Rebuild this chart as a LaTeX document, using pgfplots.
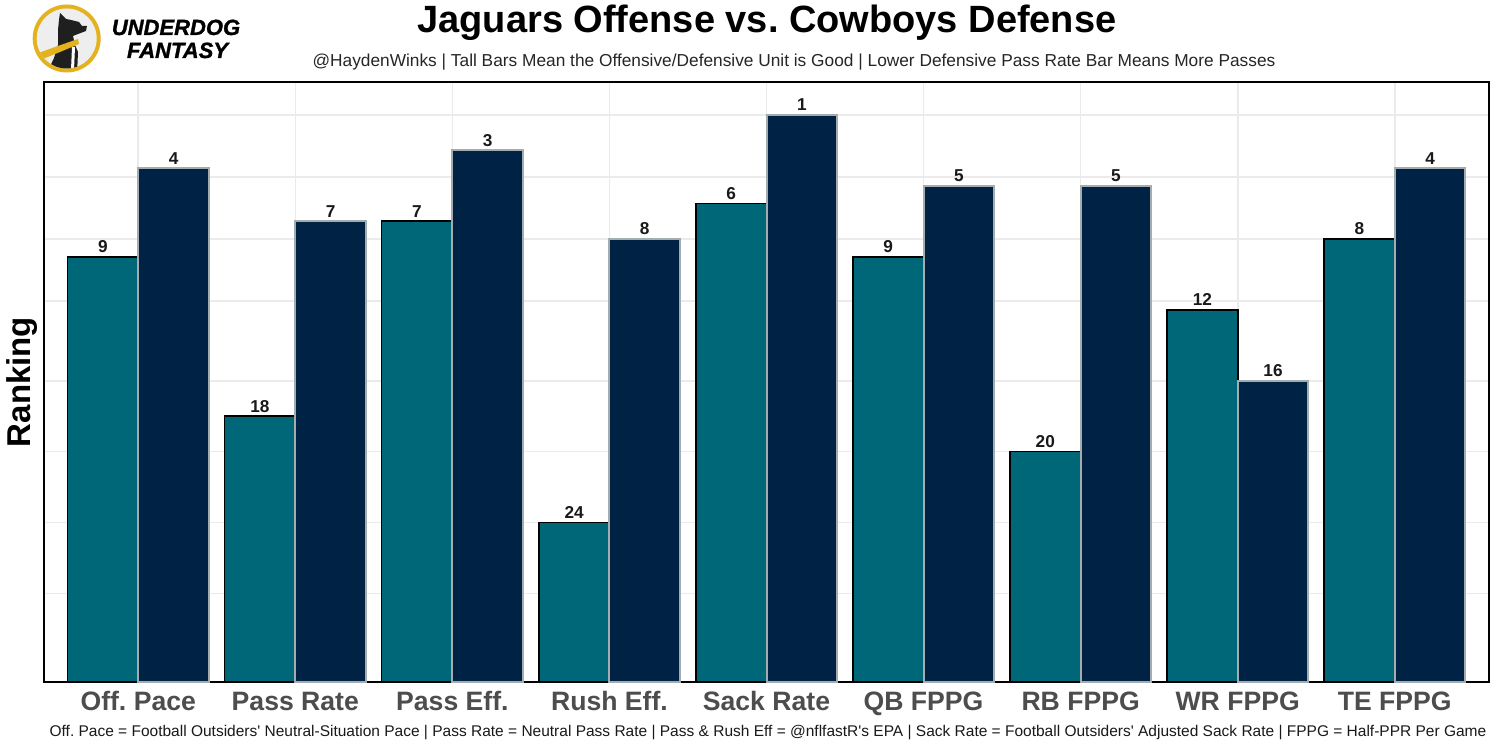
\documentclass[border=0pt]{standalone}
\usepackage{fontspec}
\setmainfont{Liberation Sans}[Ligatures=TeXOff]
\newfontfamily\logofont{Liberation Sans}[BoldItalicFeatures={FakeBold=1.2}]
\usepackage{pgfplots}
\pgfplotsset{compat=1.18}
\usepackage{pgfplotstable}
\definecolor{jagteal}{HTML}{006778}
\definecolor{cownavy}{HTML}{002244}
\definecolor{cowsilver}{HTML}{A5ACAF}
\definecolor{gridgray}{HTML}{EBEBEB}
\definecolor{ticktext}{HTML}{4D4D4D}
\definecolor{udyellow}{HTML}{E3B21C}
\definecolor{logobg}{HTML}{EEEEEE}

% x = category position (teal left / navy right), h = 33 - rank, r = rank
\pgfplotstableread{
x h r
-0.225 24 9
0.775 15 18
1.775 26 7
2.775 9 24
3.775 27 6
4.775 24 9
5.775 13 20
6.775 21 12
7.775 25 8
}\offense
\pgfplotstableread{
x h r
0.225 29 4
1.225 26 7
2.225 30 3
3.225 25 8
4.225 32 1
5.225 28 5
6.225 28 5
7.225 17 16
8.225 29 4
}\defense

\begin{document}
\frenchspacing
\begin{tikzpicture}
\path[use as bounding box, fill=white] (0,0) rectangle (750pt,375pt);

% ---- logo and texts (pixel coordinates) ----
\begin{scope}[shift={(0pt,375pt)}, x=0.5pt, y=-0.5pt]
  \fill[udyellow] (66.7,38.5) circle (34);
  \fill[logobg] (66.7,38.5) circle (30);
  \begin{scope}
    \clip (66.7,38.5) circle (30);
    \fill[black!88] (60,13) -- (66,19) -- (71,20) -- (79,22) -- (82,26) -- (87,26) -- (86,31) -- (78,34) -- (73,36) -- (75,45) -- (78,52) -- (77,75) -- (46,75) -- (54,58) -- (58,45) -- (58,30) -- (59,20) -- cycle;
    \fill[udyellow] (30,56) -- (55,47) -- (78,39) -- (79,44) -- (60,52) -- (33,63) -- cycle;
    \fill[white] (72,47) -- (75,47) -- (74,70) -- (71,70) -- cycle;
  \end{scope}
  \node[anchor=base, font=\logofont\fontsize{11}{12}\selectfont\bfseries\itshape] at (176,35) {UNDERDOG};
  \node[anchor=base, font=\logofont\fontsize{11}{12}\selectfont\bfseries\itshape] at (177.5,58) {FANTASY};
  % titles
  \node[anchor=base, font=\fontsize{19}{22}\selectfont\bfseries] at (767,33) {Jaguars Offense vs.\ Cowboys Defense};
  \node[anchor=base, font=\fontsize{8.65}{10}\selectfont, black!85] at (794,66.5) {@HaydenWinks | Tall Bars Mean the Offensive/Defensive Unit is Good | Lower Defensive Pass Rate Bar Means More Passes};
  \node[anchor=base, font=\fontsize{7.75}{9}\selectfont, black!90] at (768,737) {Off.\ Pace = Football Outsiders' Neutral-Situation Pace | Pass Rate = Neutral Pass Rate | Pass \& Rush Eff = @nflfastR's EPA | Sack Rate = Football Outsiders' Adjusted Sack Rate | FPPG = Half-PPR Per Game};
\end{scope}

\begin{axis}[
  at={(22pt,34pt)}, anchor=south west,
  scale only axis, width=722.5pt, height=300pt,
  xmin=-0.6, xmax=8.6, ymin=0, ymax=33.86,
  xtick={0,...,8},
  xticklabels={Off.\ Pace, Pass Rate, Pass Eff., Rush Eff., Sack Rate, QB FPPG, RB FPPG, WR FPPG, TE FPPG},
  xticklabel style={anchor=base, yshift=-14.3pt, font=\fontsize{13.3}{16}\selectfont\bfseries, text=ticktext},
  ytick={5,9,13,17,21.5,25,28.5,32},
  yticklabels={},
  grid=major,
  major grid style={gridgray, line width=0.8pt},
  major tick length=0pt,
  axis line style={black, line width=1pt},
  ylabel={Ranking},
  ylabel style={at={(axis description cs:-0.0152,0.5)}, anchor=center, font=\fontsize{16.5}{18}\selectfont\bfseries},
  /pgf/number format/assume math mode=true,
  nodes near coords,
  point meta=explicit,
  every node near coord/.style={anchor=base, yshift=2pt, font=\fontsize{8.6}{10}\selectfont\bfseries, text=black!90},
]
\addplot[ybar, bar width=0.45, bar shift=0pt, fill=jagteal, draw=black, line width=0.8pt]
  table[x=x, y=h, meta=r] {\offense};
\addplot[ybar, bar width=0.45, bar shift=0pt, fill=cownavy, draw=cowsilver, line width=1pt]
  table[x=x, y=h, meta=r] {\defense};
\end{axis}
\end{tikzpicture}
\end{document}
